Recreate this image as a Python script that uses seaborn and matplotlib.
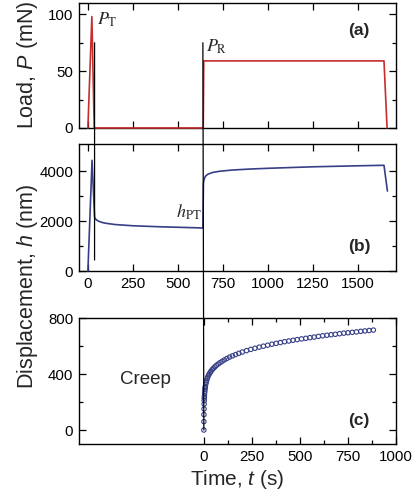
import numpy as np
import pandas as pd
import matplotlib
matplotlib.use('Agg')
import matplotlib.pyplot as plt
import seaborn as sns
from matplotlib.patches import ConnectionPatch
from matplotlib.ticker import FixedLocator

# Datos
# ==============================================================================
# (a) carga P (mN) frente al tiempo (s)
t_load = [0, 22, 35, 640, 643, 1643, 1660]
p_load = [0, 98, 0, 0, 59, 59, 0]

# (b) desplazamiento h (nm) frente al tiempo (s)
t_disp = [0, 23, 37, 45, 60, 80, 100, 150, 250, 400, 500, 600, 638,
          641, 645, 652, 665, 690, 730, 800, 900, 1000, 1250, 1500, 1643, 1662]
h_disp = [0, 4430, 2150, 2060, 1990, 1940, 1910, 1860, 1810, 1770, 1750, 1730, 1720,
          3500, 3680, 3790, 3870, 3940, 3990, 4040, 4080, 4110, 4170, 4210, 4230, 3200]

# (c) fluencia (creep)
t_creep = [0, 0.3, 0.6, 1, 1.5, 2, 2.5, 3, 4, 5, 6, 7, 8, 10, 12, 14, 17, 20, 24, 28,
           33, 38, 44, 50, 57, 65, 74, 84, 95, 107, 120, 134, 149, 165, 182,
           200, 222, 244, 266, 288, 310, 332, 354, 376, 398, 420, 442, 464, 486,
           508, 530, 552, 574, 596, 618, 640, 662, 684, 706, 728, 750, 772, 794,
           816, 838, 860, 882]
h_creep = [0, 60, 110, 150, 185, 210, 228, 242, 262, 278, 292, 303, 312, 328, 341, 352,
           366, 377, 390, 400, 411, 421, 432, 441, 451, 461, 471, 481, 491, 501, 511,
           521, 530, 539, 548,
           557, 567, 576, 584, 592, 599, 606, 613, 619, 625, 631, 636, 641, 646,
           651, 655, 660, 664, 669, 673, 677, 681, 684, 688, 692, 695, 698, 701,
           705, 708, 711, 714]

df_a = pd.DataFrame({'t': t_load, 'P': p_load})
df_b = pd.DataFrame({'t': t_disp, 'h': h_disp})
df_c = pd.DataFrame({'t': t_creep, 'h': h_creep})

# Estilo
# ==============================================================================
sns.set_theme(style='ticks')
plt.rcParams['font.family'] = ['Liberation Sans', 'DejaVu Sans']
plt.rcParams['mathtext.fontset'] = 'custom'
plt.rcParams['mathtext.rm'] = 'Liberation Sans'
plt.rcParams['mathtext.it'] = 'Liberation Sans:italic'
plt.rcParams['axes.linewidth'] = 1.0
plt.rcParams['axes.edgecolor'] = 'black'

red = '#c62d2d'
navy = '#373f86'

fig = plt.figure(figsize=(4.13, 4.94), dpi=100)
ax_a = fig.add_axes([0.191, 0.741, 0.768, 0.253])
ax_b = fig.add_axes([0.191, 0.4514, 0.768, 0.257])
ax_c = fig.add_axes([0.191, 0.1012, 0.768, 0.255])

# Gráficos
# ==============================================================================
sns.lineplot(data=df_a, x='t', y='P', sort=False, estimator=None,
             color=red, linewidth=1.2, ax=ax_a, zorder=3, clip_on=False)
sns.lineplot(data=df_b, x='t', y='h', sort=False, estimator=None,
             color=navy, linewidth=1.2, ax=ax_b, zorder=3, clip_on=False)
sns.scatterplot(data=df_c, x='t', y='h', marker='o', s=10,
                color=navy, linewidth=0.8, ax=ax_c)
for coll in ax_c.collections:
    coll.set_facecolor('none')
    coll.set_edgecolor(navy)

ax_a.set_xlim(-50, 1710)
ax_a.set_ylim(0, 110)
ax_b.set_xlim(-50, 1710)
ax_b.set_ylim(0, 5080)
ax_c.set_xlim(-650, 1000)
ax_c.set_ylim(-100, 800)

ticks_t = [0, 250, 500, 750, 1000, 1250, 1500]
ax_a.set_xticks(ticks_t)
ax_a.set_xticklabels([])
ax_a.set_yticks([0, 50, 100])
ax_a.yaxis.set_minor_locator(FixedLocator([25, 75]))

ax_b.set_xticks(ticks_t)
ax_b.set_yticks([0, 2000, 4000])
ax_b.yaxis.set_minor_locator(FixedLocator([1000, 3000]))

ax_c.set_xticks([0, 250, 500, 750, 1000])
ax_c.xaxis.set_minor_locator(FixedLocator([125, 375, 625, 875]))
ax_c.set_yticks([0, 400, 800])
ax_c.yaxis.set_minor_locator(FixedLocator([200, 600]))

for ax in (ax_a, ax_b, ax_c):
    ax.tick_params(which='both', direction='in', top=True, right=True,
                   colors='black', labelsize=10.8)
    ax.tick_params(which='major', length=5, width=0.9, pad=4)
    ax.tick_params(which='minor', length=3, width=0.9)
    ax.set_xlabel('')
    ax.set_ylabel('')
    for sp in ax.spines.values():
        sp.set_visible(True)
        sp.set_color('black')

ax_c.set_xlabel('Time, $\\mathit{t}$ (s)', fontsize=15, labelpad=3)
fig.text(0.066, 0.868, 'Load, $\\mathit{P}$ (mN)', rotation=90,
         ha='center', va='center', fontsize=15.5)
fig.text(0.066, 0.419, 'Displacement, $\\mathit{h}$ (nm)', rotation=90,
         ha='center', va='center', fontsize=15.5)

# Anotaciones
# ==============================================================================
ax_a.text(48, 95, '$P_{\\mathrm{T}}$', math_fontfamily='stix', fontsize=13,
          ha='left', va='center')
ax_a.text(655, 71, '$P_{\\mathrm{R}}$', math_fontfamily='stix', fontsize=13,
          ha='left', va='center')
ax_b.text(488, 2330, '$h_{\\mathrm{PT}}$', math_fontfamily='stix', fontsize=13,
          ha='left', va='center')
ax_c.text(-305, 360, 'Creep', fontsize=13.5, ha='center', va='center')

for ax, lab in ((ax_a, '(a)'), (ax_b, '(b)'), (ax_c, '(c)')):
    y = 0.78 if lab == '(a)' else 0.19
    ax.text(0.883, y, lab, transform=ax.transAxes, fontsize=12.5,
            fontweight='bold', ha='center', va='center')

line_1 = ConnectionPatch(xyA=(37, 75), coordsA=ax_a.transData,
                         xyB=(37, 440), coordsB=ax_b.transData,
                         color='black', linewidth=0.9)
line_2 = ConnectionPatch(xyA=(638, 75), coordsA=ax_a.transData,
                         xyB=(0, 0), coordsB=ax_c.transData,
                         color='black', linewidth=0.9)
fig.add_artist(line_1)
fig.add_artist(line_2)

fig.savefig('out.png', dpi=100)
